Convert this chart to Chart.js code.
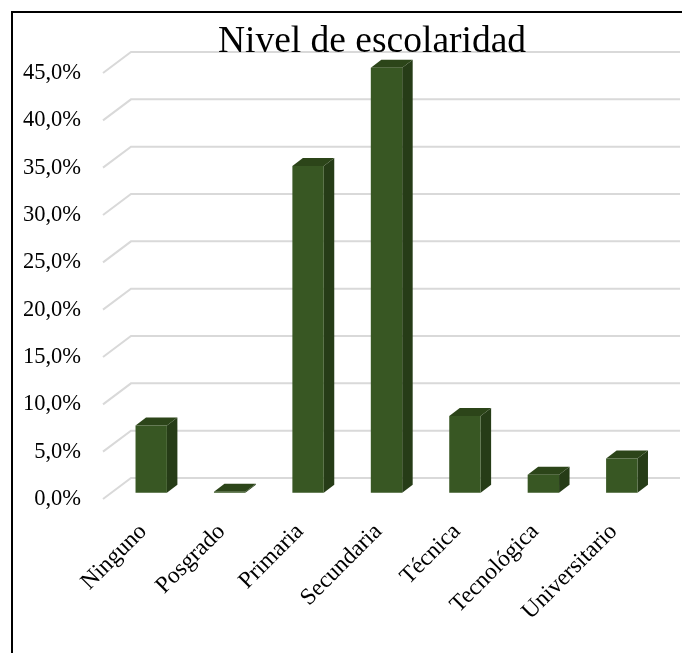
<!DOCTYPE html>
<html>
<head>
<meta charset="utf-8">
<title>Nivel de escolaridad</title>
<script src="https://cdn.jsdelivr.net/npm/chart.js@4"></script>
<style>
  html, body { margin: 0; background: #fff; }
  #wrap { width: 682px; height: 653px; }
</style>
</head>
<body>
<div id="wrap"><canvas id="chart" width="682" height="653"></canvas></div>
<script>
const categories = ['Ninguno', 'Posgrado', 'Primaria', 'Secundaria', 'Técnica', 'Tecnológica', 'Universitario'];
const values = [7.1, 0.1, 34.5, 44.9, 8.1, 1.9, 3.6];
const chartTitle = 'Nivel de escolaridad';

const serif = '"Liberation Serif", "Times New Roman", serif';
const front = '#385723', side = '#263c17', top3d = '#2c4519';

// Fake 3D: frame, floor/back wall lines, then the side and top of each bar
const depth3d = {
  id: 'depth3d',
  beforeDraw(chart) {
    const { ctx, chartArea, scales } = chart;
    ctx.save();
    ctx.strokeStyle = '#000';
    ctx.lineWidth = 2;
    ctx.strokeRect(12, 12, 800, 800);
    ctx.strokeStyle = '#d9d9d9';
    ctx.lineWidth = 2;
    scales.y.ticks.forEach(t => {
      const y = scales.y.getPixelForValue(t.value);
      ctx.beginPath();
      ctx.moveTo(chartArea.left - 9, y);
      ctx.lineTo(chartArea.left + 19, y - 21);
      ctx.lineTo(chartArea.right + 19, y - 21);
      ctx.stroke();
    });
    ctx.restore();
  },
  beforeDatasetsDraw(chart) {
    const ctx = chart.ctx;
    const dx = 10.5, dy = 8;
    ctx.save();
    chart.getDatasetMeta(0).data.forEach(bar => {
      const l = bar.x - bar.width / 2, r = bar.x + bar.width / 2;
      ctx.fillStyle = side;
      ctx.beginPath();
      ctx.moveTo(r, bar.base);
      ctx.lineTo(r + dx, bar.base - dy);
      ctx.lineTo(r + dx, bar.y - dy);
      ctx.lineTo(r, bar.y);
      ctx.fill();
      ctx.fillStyle = top3d;
      ctx.beginPath();
      ctx.moveTo(l, bar.y);
      ctx.lineTo(l + dx, bar.y - dy);
      ctx.lineTo(r + dx, bar.y - dy);
      ctx.lineTo(r, bar.y);
      ctx.fill();
    });
    ctx.restore();
  },
  // title is centred over the plot in the original, not over the canvas
  afterLayout(chart) {
    chart.titleBlock.left += 41.5;
    chart.titleBlock.right += 41.5;
  }
};

new Chart(document.getElementById('chart').getContext('2d'), {
  type: 'bar',
  plugins: [depth3d],
  data: {
    labels: categories,
    datasets: [{
      data: values,
      yAxisID: 'yBars',
      backgroundColor: front,
      borderWidth: 0,
      barPercentage: 0.4,
      categoryPercentage: 1,
      clip: false
    }]
  },
  options: {
    responsive: false,
    animation: false,
    layout: { padding: { right: 21 } },
    plugins: {
      legend: { display: false },
      tooltip: { enabled: false },
      title: {
        display: true,
        text: chartTitle,
        color: '#000',
        z: 1,
        font: { family: serif, size: 37.5, weight: 'normal' },
        padding: { top: 20, bottom: 8 }
      }
    },
    scales: {
      x: {
        grid: { display: false },
        border: { display: false },
        afterFit: s => { s.height = 154; },
        ticks: {
          color: '#000',
          font: { family: serif, size: 23.5 },
          minRotation: 45,
          maxRotation: 45,
          padding: 11,
          labelOffset: -8,
          autoSkip: false
        }
      },
      // labelled axis: zero sits on the front edge of the floor
      y: {
        min: 0,
        max: 45,
        grid: { display: false },
        border: { display: false },
        afterFit: s => { s.width = 112; },
        ticks: {
          stepSize: 5,
          color: '#000',
          padding: 23,
          font: { family: serif, size: 22.5 },
          callback: v => v.toFixed(1).replace('.', ',') + '%'
        }
      },
      // bars stand a little behind the front edge, so same scale moved up
      yBars: {
        display: false,
        min: -0.665,
        max: 44.335
      }
    }
  }
});
</script>
</body>
</html>
